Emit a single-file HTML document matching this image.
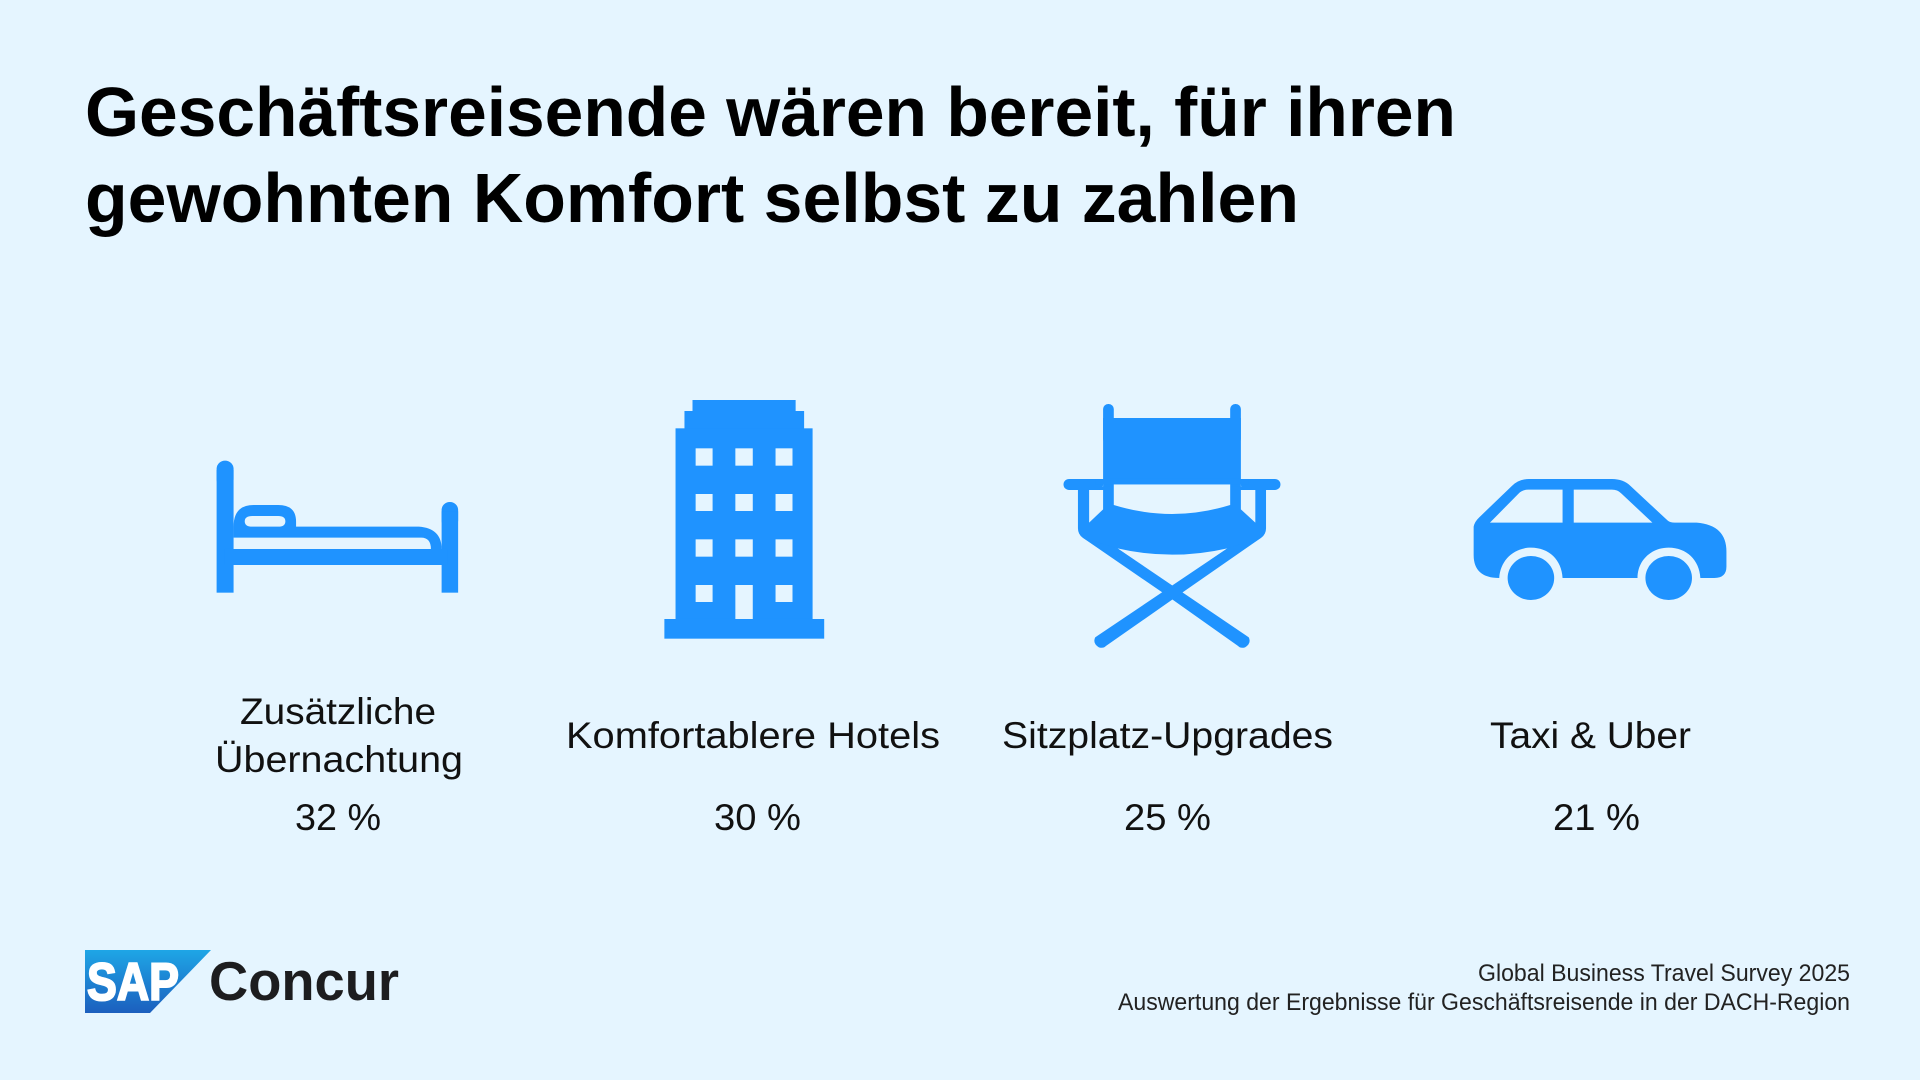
<!DOCTYPE html>
<html lang="de">
<head>
<meta charset="utf-8">
<title>Geschäftsreisende Komfort</title>
<style>
html,body{margin:0;padding:0;background:#e5f5ff;}
svg{display:block;}
text{font-family:"Liberation Sans",sans-serif;}
.title{font-size:70px;font-weight:700;fill:#000;}
.label{font-size:37px;fill:#111;}
.foot{font-size:24px;fill:#222;}
</style>
</head>
<body>
<svg width="1920" height="1080" viewBox="0 0 1920 1080" xmlns="http://www.w3.org/2000/svg">
<defs>
<linearGradient id="sapGrad" x1="0" y1="0" x2="0" y2="1">
<stop offset="0" stop-color="#1ea6e6"/><stop offset="1" stop-color="#1c5fbe"/>
</linearGradient>
</defs>
<rect width="1920" height="1080" fill="#e5f5ff"/>

<text class="title" x="85" y="136" textLength="1371" lengthAdjust="spacingAndGlyphs">Geschäftsreisende wären bereit, für ihren</text>
<text class="title" x="85" y="222" textLength="1214" lengthAdjust="spacingAndGlyphs">gewohnten Komfort selbst zu zahlen</text>

<g transform="translate(180,380) scale(.44643,.33333)" fill="#1f93ff">
<rect x="82" y="242" width="38" height="80" rx="19" ry="24"/>
<rect x="82" y="270" width="38" height="368"/>
<rect x="586" y="366" width="37" height="80" rx="18" ry="24"/>
<rect x="586" y="394" width="37" height="244"/>
<rect x="100" y="507" width="500" height="48"/>
<path d="M120,440 Q120,375 165,375 L220,375 Q260,375 260,425 L260,440 L535,440 Q586,445 586,507 L562,507 Q562,473 540,473 L120,473 Z"/>
<path d="M162,408 L220,408 Q236,408 236,424 Q236,440 220,440 L162,440 Q145,440 145,424 Q145,408 162,408 Z" fill="#e5f5ff"/>
</g>

<g transform="translate(180,380) scale(.44643,.33333)">
<g fill="#1f93ff">
<rect x="1148" y="60" width="231" height="50"/>
<rect x="1130" y="93" width="268" height="60"/>
<rect x="1110" y="145" width="307" height="580"/>
<rect x="1085" y="717" width="358" height="59"/>
</g>
<g fill="#e5f5ff">
<rect x="1155" y="205" width="38" height="52"/><rect x="1244" y="205" width="39" height="52"/><rect x="1334" y="205" width="38" height="52"/>
<rect x="1155" y="342" width="38" height="51"/><rect x="1244" y="342" width="39" height="51"/><rect x="1334" y="342" width="38" height="51"/>
<rect x="1155" y="478" width="38" height="52"/><rect x="1244" y="478" width="39" height="52"/><rect x="1334" y="478" width="38" height="52"/>
<rect x="1155" y="615" width="38" height="51"/><rect x="1244" y="615" width="39" height="102"/><rect x="1334" y="615" width="38" height="51"/>
</g>
</g>

<g transform="translate(1030,380) scale(.46553,.33333)">
<g fill="#1f93ff">
<rect x="157" y="72" width="23" height="120" rx="11" ry="15"/>
<rect x="430" y="72" width="23" height="120" rx="11" ry="15"/>
<rect x="157" y="114" width="296" height="300"/>
<path d="M103,320 L507,320 L507,445 Q507,462 497,473 L424,540 L188,540 L113,473 Q103,462 103,445 Z"/>
</g>
<path d="M180,313 L430,313 L430,375 Q305,429 180,375 Z" fill="#e5f5ff"/>
<path d="M127,330 L157,330 L157,388 L127,428 Z" fill="#e5f5ff"/>
<path d="M453,330 L484,330 L484,428 L453,388 Z" fill="#e5f5ff"/>
<path d="M188,505 Q305,543 424,505 L305,618 Z" fill="#e5f5ff"/>
<rect x="72" y="297" width="85" height="33" rx="12" ry="16" fill="#1f93ff"/>
<rect x="453" y="297" width="85" height="33" rx="12" ry="16" fill="#1f93ff"/>
<rect x="140" y="297" width="330" height="16" fill="#1f93ff"/>
<g fill="#1f93ff">
<path d="M113,473 L188,505 L470,772 Q476,790 462,802 Q452,806 447,798 L285,638 Z"/>
<path d="M497,473 L424,505 L140,772 Q134,790 148,802 Q158,806 163,798 L327,638 Z"/>
</g>
</g>

<g transform="translate(1030,380) scale(.46553,.33333)">
<path fill="#1f93ff" d="M953,440 Q955,425 965,412 L1035,318 Q1050,297 1072,297 L1250,297 Q1275,297 1290,318 L1370,422 Q1375,428 1385,428 L1432,428 Q1496,435 1496,515 L1496,560 Q1496,594 1470,594 L1440,594 C1438,540 1410,503 1372,503 C1335,503 1305,540 1305,594 L1144,594 C1142,540 1115,503 1076,503 C1040,503 1010,540 1008,594 Q953,594 953,525 Z"/>
<path fill="#e5f5ff" d="M988,428 L1050,340 Q1058,329 1070,329 L1144,329 L1144,428 Z"/>
<path fill="#e5f5ff" d="M1168,329 L1250,329 Q1262,329 1270,340 L1337,428 L1168,428 Z"/>
<ellipse cx="1076" cy="594" rx="50" ry="66" fill="#1f93ff"/>
<ellipse cx="1372" cy="594" rx="50" ry="66" fill="#1f93ff"/>
</g>

<text class="label" x="240" y="724" textLength="196" lengthAdjust="spacingAndGlyphs">Zusätzliche</text>
<text class="label" x="215" y="772" textLength="248" lengthAdjust="spacingAndGlyphs">Übernachtung</text>
<text class="label" x="566" y="748" textLength="374" lengthAdjust="spacingAndGlyphs">Komfortablere Hotels</text>
<text class="label" x="1002" y="748" textLength="331" lengthAdjust="spacingAndGlyphs">Sitzplatz-Upgrades</text>
<text class="label" x="1490" y="748" textLength="201" lengthAdjust="spacingAndGlyphs">Taxi &amp; Uber</text>

<text class="label" x="295" y="830" textLength="86" lengthAdjust="spacingAndGlyphs">32 %</text>
<text class="label" x="714" y="830" textLength="87" lengthAdjust="spacingAndGlyphs">30 %</text>
<text class="label" x="1124" y="830" textLength="87" lengthAdjust="spacingAndGlyphs">25 %</text>
<text class="label" x="1553" y="830" textLength="87" lengthAdjust="spacingAndGlyphs">21 %</text>

<g>
<path d="M85,950 L211,950 L150,1013 L85,1013 Z" fill="url(#sapGrad)"/>
<text x="87" y="1000" font-size="53" font-weight="700" fill="#fff" stroke="#fff" stroke-width="2" textLength="92" lengthAdjust="spacingAndGlyphs">SAP</text>
<text x="209" y="1000" font-size="55" font-weight="700" fill="#1d1d1f" textLength="190" lengthAdjust="spacingAndGlyphs">Concur</text>
</g>

<text class="foot" x="1478" y="981" textLength="372" lengthAdjust="spacingAndGlyphs">Global Business Travel Survey 2025</text>
<text class="foot" x="1118" y="1010" textLength="732" lengthAdjust="spacingAndGlyphs">Auswertung der Ergebnisse für Geschäftsreisende in der DACH-Region</text>
</svg>
</body>
</html>
